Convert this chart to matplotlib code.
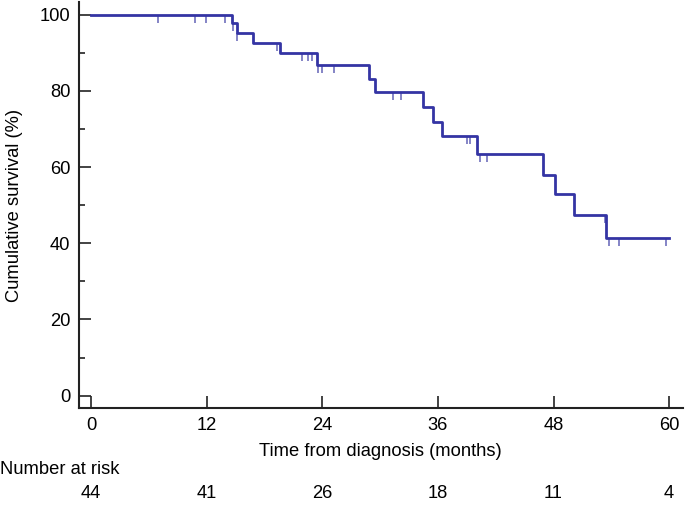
import numpy as np
import matplotlib
matplotlib.use("Agg")
import matplotlib.pyplot as plt

plt.rcParams['font.family'] = ['Liberation Sans', 'DejaVu Sans']

# Kaplan-Meier steps (months, % surviving after the drop)
event_times = [14.67, 15.13, 16.82, 19.62, 23.49, 28.86, 29.48, 34.47, 35.53,
               36.41, 40.04, 46.95, 48.10, 50.14, 53.46]
survival = [97.7, 95.2, 92.5, 89.8, 86.8, 83.2, 79.8, 75.7, 71.8,
            68.1, 63.3, 58.0, 52.8, 47.4, 41.4]
censor_times = [6.99, 10.80, 11.91, 13.91, 14.77, 15.19, 19.34, 21.90, 22.50,
                22.91, 23.60, 23.95, 25.23, 31.35, 32.15, 39.05, 39.30, 40.38,
                41.08, 53.36, 53.74, 54.78, 59.69]
follow_up = 60

risk_times = [0, 12, 24, 36, 48, 60]
at_risk = [44, 41, 26, 18, 11, 4]

line_color = '#3434a4'
censor_color = '#7070bc'
fs = 13.2


def surv_at(t):
    s = 100.0
    for et, sv in zip(event_times, survival):
        if et <= t:
            s = sv
    return s


fig = plt.figure(figsize=(6.85, 5.05), dpi=100)
ax = fig.add_axes([0.1146, 0.1915, 0.882, 0.8045])

xs = [0] + event_times + [follow_up]
ys = [100] + survival + [survival[-1]]
ax.step(xs, ys, where='post', color=line_color, linewidth=2.0, zorder=3)

cy = [surv_at(t) for t in censor_times]
ax.plot(censor_times, cy, linestyle='none', marker=3, markersize=5.5,
        markeredgewidth=1.2, color=censor_color, zorder=2)

ax.set_xlim(-1.3, 61.4)
ax.set_ylim(-3.3, 103.3)
ax.set_xticks(risk_times)
ax.set_yticks([0, 20, 40, 60, 80, 100])
ax.set_yticks(np.arange(10, 100, 20), minor=True)

for side in ['top', 'right']:
    ax.spines[side].set_visible(False)
for side in ['left', 'bottom']:
    ax.spines[side].set_linewidth(1.5)
    ax.spines[side].set_color('#222222')

ax.tick_params(axis='both', which='major', direction='in', length=8.5,
               width=1.2, color='#222222', labelsize=fs, pad=6)
ax.tick_params(axis='y', which='minor', direction='in', length=4.5,
               width=1.2, color='#222222')

ax.set_xlabel('Time from diagnosis (months)', fontsize=fs, labelpad=7)
ax.set_ylabel('Cumulative survival (%)', fontsize=fs, labelpad=12)

# number at risk table under the axis
fig.text(0.0, 1 - 470 / 505, 'Number at risk', fontsize=fs, ha='left', va='center')
for t, n in zip(risk_times, at_risk):
    xf = ax.transData.transform((t, 0))[0] / fig.bbox.width
    fig.text(xf, 1 - 494 / 505, str(n), fontsize=fs, ha='center', va='center')

fig.savefig('out.png', dpi=100)
